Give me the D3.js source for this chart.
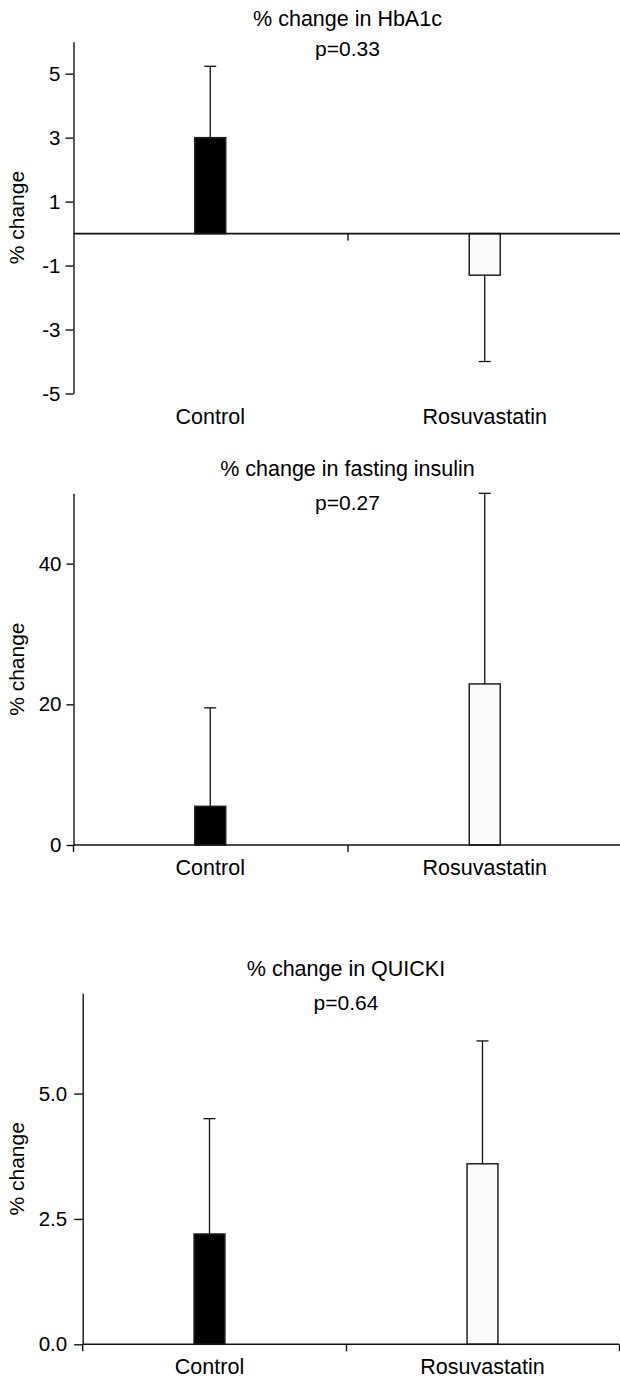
<!DOCTYPE html>
<html>
<head>
<meta charset="utf-8">
<script src="https://cdn.jsdelivr.net/npm/d3@7"></script>
<style>
body { margin: 0; background: #fff; }
svg { display: block; font-family: "Liberation Sans", Arial, sans-serif; }
</style>
</head>
<body>
<svg id="chart"></svg>
<script>
// Data
const categories = ["Control", "Rosuvastatin"]
const barFills = ["#000000", "#fcfcfc"]
const yLabel = "% change"

const hba1cTitle = "% change in HbA1c"
const hba1cP = "p=0.33"
const hba1cMean = [3.0, -1.3]
const hba1cErr = [2.23, 2.7]
const hba1cTicks = [-5, -3, -1, 1, 3, 5]
const hba1cDomain = [-5, 6]

const insulinTitle = "% change in fasting insulin"
const insulinP = "p=0.27"
const insulinMean = [5.5, 22.9]
const insulinErr = [14.0, 27.1]
const insulinTicks = [0, 20, 40]
const insulinDomain = [0, 50]

const quickiTitle = "% change in QUICKI"
const quickiP = "p=0.64"
const quickiMean = [2.2, 3.6]
const quickiErr = [2.3, 2.45]
const quickiTicks = [0, 2.5, 5.0]
const quickiDomain = [0, 7]

const w = 620
const h = 1380

// plain hyphen for negatives, like the original figure
const intFmt = d => String(d)
const oneDec = d => d.toFixed(1)

// layout of each panel
const panels = [
    {title: hba1cTitle, p: hba1cP, mean: hba1cMean, err: hba1cErr, ticks: hba1cTicks, domain: hba1cDomain,
     fmt: intFmt, top: 41.7, bottom: 393.5, axisX: 73.5, xEnd: 622, tickSize: 8, tickPad: 5,
     titleY: 26, pY: 56},
    {title: insulinTitle, p: insulinP, mean: insulinMean, err: insulinErr, ticks: insulinTicks, domain: insulinDomain,
     fmt: intFmt, top: 493.3, bottom: 845, axisX: 73.5, xEnd: 622, tickSize: 7, tickPad: 5,
     titleY: 476, pY: 510},
    {title: quickiTitle, p: quickiP, mean: quickiMean, err: quickiErr, ticks: quickiTicks, domain: quickiDomain,
     fmt: oneDec, top: 993.3, bottom: 1344.3, axisX: 82.7, xEnd: 619, tickSize: 8.5, tickPad: 7,
     titleY: 976, pY: 1010}
]

const svg = d3.select("#chart")
    .attr("width", w)
    .attr("height", h)

panels.forEach(p => drawPanel(svg, p))

function drawPanel(svg, p){

    const g = svg.append("g")

    // x band scale for bars, linear scale for the group boundaries
    const x = d3.scaleBand()
        .domain(categories)
        .range([73, p.xEnd])
        .paddingInner(0.887)
        .paddingOuter(0.887 / 2)

    const edge = d3.scaleLinear()
        .domain([0, 2])
        .range([73, p.xEnd])

    const y = d3.scaleLinear()
        .domain(p.domain)
        .range([p.bottom, p.top])

    // bars
    g.selectAll("rect")
        .data(p.mean)
        .enter()
        .append("rect")
        .attr("x", (d, i) => x(categories[i]))
        .attr("width", x.bandwidth())
        .attr("y", d => y(Math.max(0, d)))
        .attr("height", d => Math.abs(y(d) - y(0)))
        .attr("fill", (d, i) => barFills[i])
        .attr("stroke", "#222")
        .attr("stroke-width", 1.5)

    // error bars, pointing away from zero
    const errEnd = (d, i) => d + Math.sign(d) * p.err[i]
    const cx = i => x(categories[i]) + x.bandwidth() / 2

    g.selectAll(".err")
        .data(p.mean)
        .enter()
        .append("line")
        .attr("class", "err")
        .attr("x1", (d, i) => cx(i))
        .attr("x2", (d, i) => cx(i))
        .attr("y1", d => y(d))
        .attr("y2", (d, i) => y(errEnd(d, i)))
        .attr("stroke", "#111")
        .attr("stroke-width", 1.3)

    g.selectAll(".cap")
        .data(p.mean)
        .enter()
        .append("line")
        .attr("class", "cap")
        .attr("x1", (d, i) => cx(i) - 6)
        .attr("x2", (d, i) => cx(i) + 6)
        .attr("y1", (d, i) => y(errEnd(d, i)))
        .attr("y2", (d, i) => y(errEnd(d, i)))
        .attr("stroke", "#111")
        .attr("stroke-width", 1.3)

    // y axis
    const yAxis = g.append("g")
        .attr("transform", `translate(${p.axisX}, 0)`)
        .call(d3.axisLeft(y)
            .tickValues(p.ticks)
            .tickFormat(p.fmt)
            .tickSize(p.tickSize)
            .tickSizeOuter(0)
            .tickPadding(p.tickPad))

    yAxis.selectAll("text")
        .attr("font-size", 20.5)
        .attr("font-family", "Liberation Sans, Arial, sans-serif")
        .attr("fill", "#000")
    yAxis.selectAll("line, path").attr("stroke", "#111").attr("stroke-width", 1.4)

    // small extension of the y axis below zero
    if (p.domain[0] === 0) {
        g.append("line")
            .attr("x1", p.axisX).attr("x2", p.axisX)
            .attr("y1", y(0)).attr("y2", y(0) + 7)
            .attr("stroke", "#111").attr("stroke-width", 1.4)
    }

    // x axis at zero
    const xAxis = g.append("g")
        .attr("transform", `translate(0, ${y(0)})`)
        .call(d3.axisBottom(edge)
            .tickValues([1, 2])
            .tickFormat("")
            .tickSize(7)
            .tickSizeOuter(0))
    xAxis.select(".domain").remove()
    xAxis.selectAll("line").attr("stroke", "#111").attr("stroke-width", 1.4)

    xAxis.append("line")
        .attr("x1", p.axisX)
        .attr("x2", edge(2))
        .attr("stroke", "#111")
        .attr("stroke-width", 1.6)

    // category labels under the plot
    g.selectAll(".cat")
        .data(categories)
        .enter()
        .append("text")
        .attr("class", "cat")
        .attr("x", d => x(d) + x.bandwidth() / 2)
        .attr("y", p.bottom + 30)
        .attr("text-anchor", "middle")
        .attr("font-size", 21.5)
        .attr("fill", "#000")
        .text(d => d)

    // titles
    g.append("text")
        .attr("x", edge(1))
        .attr("y", p.titleY)
        .attr("text-anchor", "middle")
        .attr("font-size", 21.5)
        .attr("fill", "#000")
        .text(p.title)

    g.append("text")
        .attr("x", edge(1))
        .attr("y", p.pY)
        .attr("text-anchor", "middle")
        .attr("font-size", 21)
        .attr("fill", "#000")
        .text(p.p)

    // y label
    g.append("text")
        .attr("transform", `translate(24, ${(p.top + p.bottom) / 2}) rotate(-90)`)
        .attr("text-anchor", "middle")
        .attr("font-size", 21)
        .attr("fill", "#000")
        .text(yLabel)
}
</script>
</body>
</html>
